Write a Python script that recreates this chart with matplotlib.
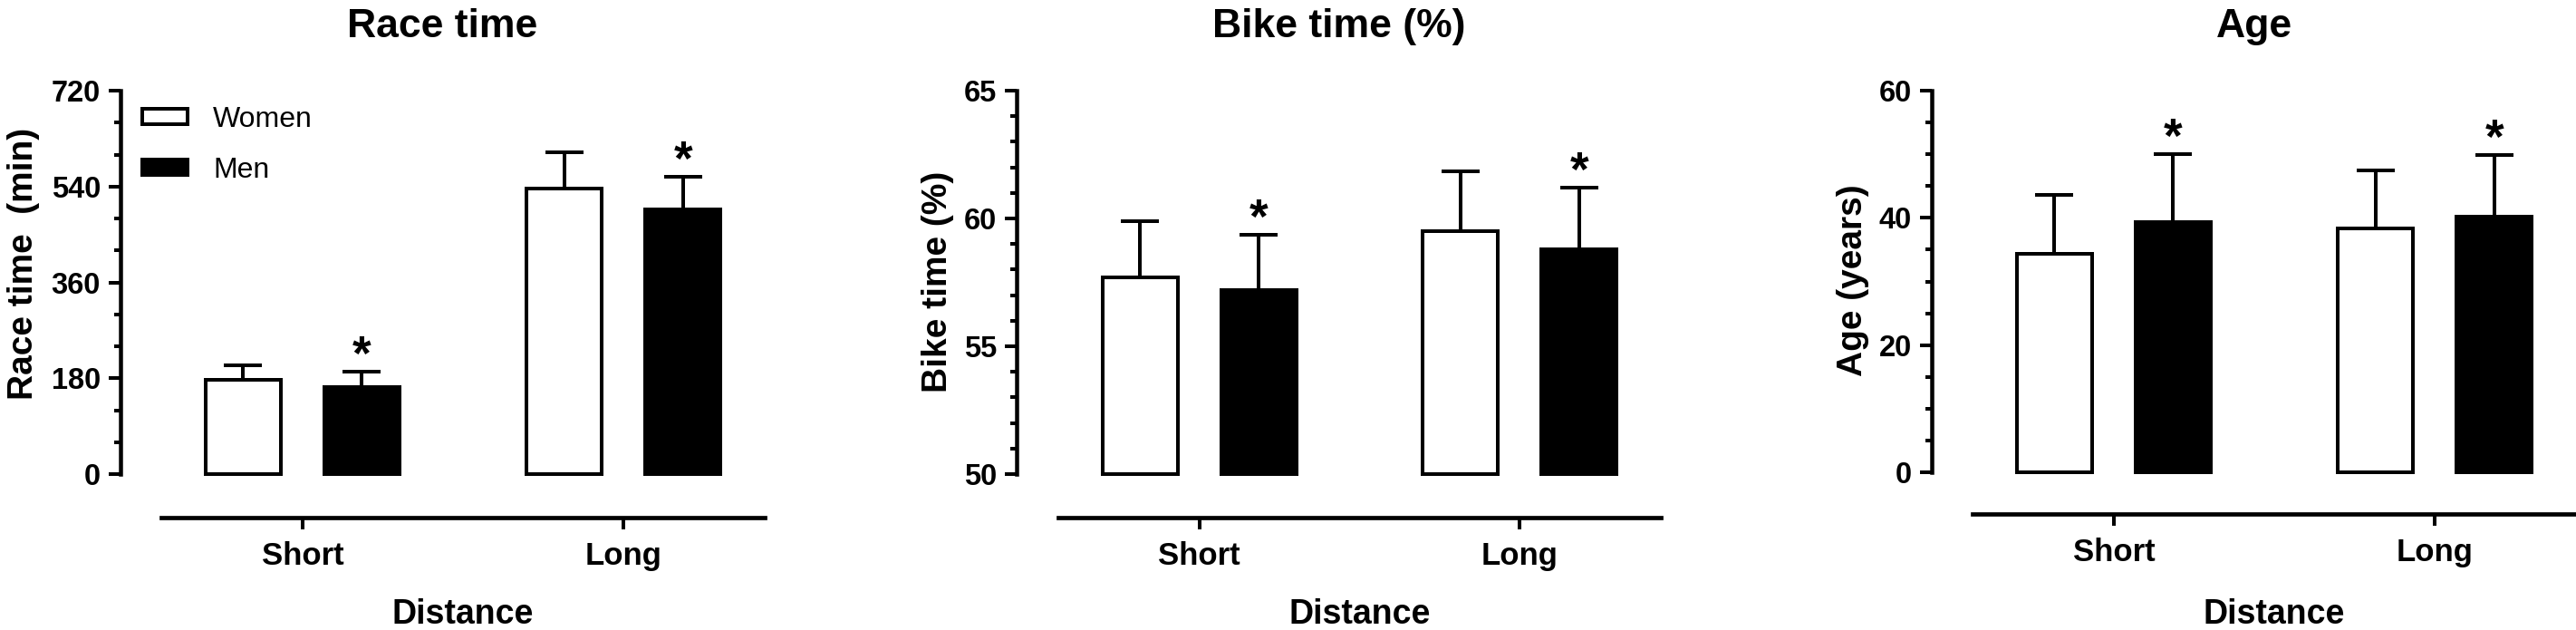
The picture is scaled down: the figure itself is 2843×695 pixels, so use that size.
import matplotlib.pyplot as plt
import numpy as np
from matplotlib.ticker import MultipleLocator

plt.rcParams['font.family'] = ['Liberation Sans', 'DejaVu Sans']

#Data (mean and upward SD)
categories = ['Short', 'Long']
groups = ['Women', 'Men']

race_women = [177, 537]
race_women_sd = [28, 68]
race_men = [164, 497]
race_men_sd = [28, 62]

bike_women = [57.7, 59.5]
bike_women_sd = [2.2, 2.35]
bike_men = [57.2, 58.8]
bike_men_sd = [2.15, 2.4]

age_women = [34.3, 38.3]
age_women_sd = [9.3, 9.1]
age_men = [39.3, 40.2]
age_men_sd = [10.7, 9.7]

#Significance marks (men vs women)
race_sig = [True, True]
bike_sig = [True, True]
age_sig = [True, True]

W, H = 2843, 695
fig = plt.figure(figsize=(W/100, H/100), dpi=100)

def px(x):
    #pixels to points at dpi 100
    return x*0.72

panels = [
    dict(title='Race time', ylabel='Race time  (min)', women=race_women, women_sd=race_women_sd,
         men=race_men, men_sd=race_men_sd, sig=race_sig, ylim=(0, 720), major=180, minor=60,
         left=178, right=844, top=100, bottom=523, spine=133, xline=571, ylab_x=26, ylab_y=291),
    dict(title='Bike time (%)', ylabel='Bike time (%)', women=bike_women, women_sd=bike_women_sd,
         men=bike_men, men_sd=bike_men_sd, sig=bike_sig, ylim=(50, 65), major=5, minor=1,
         left=1168, right=1833, top=100, bottom=523, spine=1122, xline=571, ylab_x=1035, ylab_y=311),
    dict(title='Age', ylabel='Age (years)', women=age_women, women_sd=age_women_sd,
         men=age_men, men_sd=age_men_sd, sig=age_sig, ylim=(0, 60), major=20, minor=5,
         left=2177, right=2843, top=100, bottom=521, spine=2132, xline=567, ylab_x=2045, ylab_y=309),
]

x = np.arange(len(categories))
off = 0.185
bw = 0.235
lw = px(4)

axes = []
for p in panels:
    ax = fig.add_axes([p['left']/W, 1-p['bottom']/H, (p['right']-p['left'])/W, (p['bottom']-p['top'])/H])
    axes.append(ax)
    y0 = p['ylim'][0]
    hw = np.array(p['women']) - y0
    hm = np.array(p['men']) - y0
    ax.bar(x-off, hw, bw, bottom=y0, color='white', edgecolor='black', linewidth=lw,
           label=groups[0], clip_on=False, zorder=3)
    ax.bar(x+off, hm, bw, bottom=y0, color='black', edgecolor='black', linewidth=lw,
           label=groups[1], clip_on=False, zorder=3)
    ax.errorbar(x-off, p['women'], yerr=[np.zeros(2), p['women_sd']], fmt='none', ecolor='black',
                elinewidth=lw, capsize=px(21.5), capthick=lw, zorder=2, clip_on=False)
    ax.errorbar(x+off, p['men'], yerr=[np.zeros(2), p['men_sd']], fmt='none', ecolor='black',
                elinewidth=lw, capsize=px(21.5), capthick=lw, zorder=2, clip_on=False)
    for i in range(len(categories)):
        if p['sig'][i]:
            ax.annotate('*', (x[i]+off, p['men'][i]+p['men_sd'][i]), xytext=(0, px(-9)),
                        textcoords='offset points', ha='center', va='bottom',
                        fontsize=38, fontweight='bold', annotation_clip=False)

    ax.set_xlim(-0.44, 1.44)
    ax.set_ylim(*p['ylim'])
    ax.set_xticks(x)
    ax.set_xticklabels(categories)
    ax.yaxis.set_major_locator(MultipleLocator(p['major']))
    ax.yaxis.set_minor_locator(MultipleLocator(p['minor']))

    for s in ['top', 'right']:
        ax.spines[s].set_visible(False)
    ax.spines['left'].set_position(('outward', px(p['left']-p['spine'])))
    ax.spines['bottom'].set_position(('outward', px(p['xline']-p['bottom'])))
    ax.spines['left'].set_linewidth(px(4.5))
    ax.spines['bottom'].set_linewidth(px(4.7))
    ax.tick_params(axis='y', which='major', length=px(13), width=px(4), pad=px(9), labelsize=23.5)
    ax.tick_params(axis='y', which='minor', length=px(7), width=px(4))
    ax.tick_params(axis='x', which='major', length=px(13), width=px(4), pad=px(13), labelsize=25)
    ax.tick_params(axis='x', which='minor', bottom=False)
    for t in ax.get_xticklabels() + ax.get_yticklabels():
        t.set_fontweight('bold')
    ax.patch.set_visible(False)

    #title centred between y spine and x axis end, y label and x label
    fig.text((p['spine']+p['right'])/2/W, 1-41/H, p['title'], ha='center', va='baseline',
             fontsize=32, fontweight='bold')
    fig.text(p['ylab_x']/W, 1-p['ylab_y']/H, p['ylabel'], rotation=90, ha='center', va='center',
             fontsize=28, fontweight='bold')
    fig.text((p['left']+p['right'])/2/W, 1-688/H, 'Distance', ha='center', va='baseline',
             fontsize=27, fontweight='bold')

axes[0].legend(loc='upper left', bbox_to_anchor=(157/W, 1-117/H), bbox_transform=fig.transFigure,
               frameon=False, fontsize=23, borderpad=0, borderaxespad=0, handlelength=1.55,
               handleheight=0.45, handletextpad=0.9, labelspacing=0.8)

plt.savefig('out.png', dpi=100)
